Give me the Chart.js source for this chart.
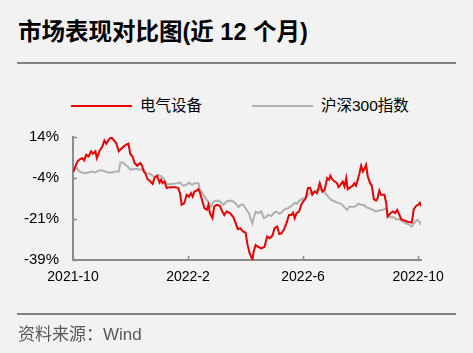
<!DOCTYPE html>
<html>
<head>
<meta charset="utf-8">
<script src="https://cdn.jsdelivr.net/npm/chart.js@4.4.0/dist/chart.umd.min.js"></script>
<style>
    body {
        margin: 0;
        width: 473px;
        height: 353px;
        background: #f2f2f2;
        position: relative;
        overflow: hidden;
        font-family: "Liberation Sans", "Noto Sans CJK SC", sans-serif;
    }
    #title {
        position: absolute;
        left: 18px;
        top: 17px;
        font-size: 23.5px;
        font-weight: bold;
        line-height: 30px;
        color: #000;
        white-space: nowrap;
    }
    .rule {
        position: absolute;
        left: 17px;
        width: 439px;
        height: 2px;
        background: #808080;
    }
    .key-line {
        position: absolute;
        top: 105px;
        width: 61px;
        height: 2px;
    }
    .key-text {
        position: absolute;
        top: 96px;
        font-size: 15.5px;
        line-height: 20px;
        color: #000;
        white-space: nowrap;
    }
    #source {
        position: absolute;
        left: 18px;
        top: 325px;
        font-size: 17px;
        line-height: 20px;
        color: #595959;
        white-space: nowrap;
    }
    #chart {
        position: absolute;
        left: 0;
        top: 0;
    }
</style>
</head>
<body>
<div id="title">市场表现对比图(近 12 个月)</div>
<div class="rule" style="top:62px"></div>
<div class="key-line" style="left:71px;background:#e60000"></div>
<div class="key-text" style="left:140px">电气设备</div>
<div class="key-line" style="left:252px;background:#b0b0b0"></div>
<div class="key-text" style="left:321px">沪深300指数</div>
<canvas id="chart" width="473" height="353"></canvas>
<div class="rule" style="top:313px"></div>
<div id="source">资料来源：Wind</div>

<script>
// months since 2021-10 (x) and cumulative return in % (y)
const redMonths = [0.02,0.08,0.16,0.25,0.33,0.39,0.46,0.54,0.63,0.70,
    0.78,0.83,0.93,1.02,1.09,1.16,1.24,1.33,1.41,1.50,
    1.59,1.67,1.76,1.85,1.93,1.99,2.07,2.14,2.23,2.34,
    2.40,2.46,2.51,2.59,2.69,2.77,2.83,2.92,3.01,3.06,
    3.11,3.18,3.26,3.37,3.55,3.66,3.72,3.78,3.87,3.95,
    4.03,4.10,4.16,4.22,4.30,4.36,4.42,4.47,4.57,4.65,
    4.71,4.76,4.85,4.91,4.99,5.11,5.19,5.26,5.34,5.46,
    5.58,5.66,5.73,5.81,5.92,6.00,6.07,6.14,6.24,6.28,
    6.35,6.43,6.55,6.66,6.75,6.84,6.93,7.01,7.10,7.17,
    7.25,7.33,7.42,7.51,7.59,7.65,7.71,7.77,7.86,7.94,
    8.00,8.09,8.17,8.25,8.32,8.40,8.49,8.58,8.67,8.75,
    8.84,8.90,8.95,9.02,9.10,9.18,9.23,9.30,9.38,9.44,
    9.50,9.55,9.65,9.73,9.78,9.84,9.90,9.96,10.02,10.08,
    10.13,10.19,10.25,10.33,10.39,10.46,10.54,10.59,10.65,10.71,
    10.83,10.89,10.94,11.04,11.12,11.20,11.27,11.35,11.41,11.52,
    11.64,11.78,11.85,11.93,12.01,12.06,12.13];
const redValues = [-0.9,1.3,3.5,4.5,4.9,3.9,6.4,5.6,7.8,6.8,
    7.8,4.9,8.2,9.9,12.5,11.1,12.8,14.0,12.8,11.4,
    7.8,8.8,9.9,10.7,11.1,6.8,5.6,2.8,1.6,2.8,
    1.6,-0.9,-1.6,-4.1,-5.2,-6.2,-3.7,-2.7,-5.6,-4.4,
    -5.9,-5.2,-8.0,-7.6,-7.6,-8.0,-10.2,-15.2,-14.5,-10.9,
    -11.7,-10.2,-11.7,-9.5,-9.1,-8.5,-10.2,-12.4,-16.7,-17.4,
    -15.2,-18.8,-21.0,-16.0,-15.2,-15.7,-18.1,-19.6,-18.1,-18.8,
    -20.6,-23.2,-25.7,-25.3,-26.8,-27.2,-32.5,-36.1,-38.9,-35.4,
    -32.5,-33.3,-34.0,-33.3,-28.9,-29.6,-28.6,-25.3,-24.6,-27.8,
    -27.5,-26.0,-23.2,-19.6,-19.6,-18.6,-21.0,-18.8,-18.1,-15.2,
    -13.8,-12.4,-8.0,-8.0,-10.9,-9.5,-10.2,-5.9,-9.5,-8.8,
    -3.7,-4.4,-2.7,-4.4,-5.2,-5.9,-7.6,-6.6,-5.2,-7.3,
    -3.7,-8.5,-7.6,-7.0,-5.9,-7.0,-4.4,-1.6,1.6,-0.9,
    0.2,2.0,-3.0,-5.9,-7.0,-12.8,-13.4,-12.4,-9.1,-10.9,
    -10.9,-14.5,-20.3,-18.8,-18.1,-18.8,-17.4,-19.6,-21.4,-22.0,
    -22.5,-22.9,-17.1,-15.7,-15.2,-14.3,-16.2];

const grayMonths = [0.02,0.14,0.23,0.31,0.43,0.54,0.66,0.78,0.89,1.01,
    1.12,1.24,1.36,1.47,1.59,1.65,1.74,1.82,1.90,1.99,
    2.11,2.23,2.34,2.46,2.55,2.69,2.80,2.89,2.97,3.08,
    3.18,3.26,3.43,3.60,3.72,3.84,3.95,4.03,4.13,4.24,
    4.36,4.42,4.47,4.57,4.65,4.71,4.80,4.88,4.99,5.11,
    5.23,5.34,5.46,5.58,5.69,5.75,5.84,5.92,6.00,6.07,
    6.12,6.17,6.24,6.28,6.35,6.43,6.55,6.63,6.70,6.78,
    6.90,6.98,7.07,7.17,7.25,7.36,7.48,7.59,7.71,7.77,
    7.88,8.00,8.09,8.17,8.29,8.40,8.49,8.58,8.67,8.75,
    8.87,8.98,9.10,9.20,9.32,9.44,9.53,9.61,9.73,9.84,
    9.92,10.02,10.11,10.19,10.31,10.42,10.54,10.65,10.77,10.89,
    10.94,11.04,11.15,11.24,11.35,11.46,11.58,11.70,11.78,11.87,
    11.97,12.05,12.10];
const grayValues = [-0.1,0.6,-0.9,-1.3,-1.6,-1.3,-0.9,-1.3,-0.4,-0.4,
    -0.9,-1.3,-1.3,-0.9,-0.9,3.0,3.0,2.0,1.3,-0.1,
    0.2,0.2,-0.1,0.2,-1.6,-1.9,-3.0,-3.0,-2.3,-3.0,
    -4.4,-6.2,-6.2,-5.9,-5.6,-7.0,-6.6,-5.6,-6.6,-5.9,
    -5.9,-8.8,-9.5,-11.7,-13.1,-14.3,-16.2,-13.8,-13.4,-13.8,
    -15.2,-13.8,-13.4,-13.8,-15.2,-16.2,-15.2,-15.2,-16.7,-18.1,
    -18.8,-21.0,-23.2,-21.0,-18.1,-18.8,-18.1,-21.0,-20.6,-19.6,
    -20.0,-18.8,-18.1,-19.1,-18.6,-17.1,-16.7,-15.7,-14.3,-14.8,
    -13.4,-12.4,-12.4,-10.9,-9.9,-9.5,-8.8,-8.5,-9.1,-9.9,
    -11.7,-13.1,-13.8,-14.3,-14.8,-16.2,-17.4,-16.0,-16.2,-15.7,
    -14.8,-15.2,-15.2,-16.2,-16.7,-17.4,-18.1,-17.7,-17.4,-16.7,
    -20.0,-20.6,-20.6,-21.4,-21.4,-22.5,-23.2,-23.9,-24.6,-22.9,
    -21.7,-22.5,-23.9];

const xTickPos = [0, 4, 8, 12];
const xTickLabels = ['2021-10', '2022-2', '2022-6', '2022-10'];
const yMin = -39;
const yMax = 14;
const yTickLabels = ['-39%', '-21%', '-4%', '14%'];

const axisColor = '#8c8c8c';

function toPoints(xs, ys) {
    return xs.map((x, i) => ({ x: x, y: ys[i] }));
}

const yTickPos = yTickLabels.map((_, i) => yMin + i * (yMax - yMin) / (yTickLabels.length - 1));

// short tick marks pointing into the plot
const innerTicks = {
    id: 'innerTicks',
    afterDraw(chart) {
        const ctx = chart.ctx;
        const area = chart.chartArea;
        ctx.save();
        ctx.strokeStyle = axisColor;
        ctx.lineWidth = 1.5;
        ctx.beginPath();
        xTickPos.forEach(v => {
            const px = Math.round(chart.scales.x.getPixelForValue(v)) + 0.5;
            ctx.moveTo(px, area.bottom);
            ctx.lineTo(px, area.bottom - 4);
        });
        yTickPos.forEach(v => {
            const py = Math.round(chart.scales.y.getPixelForValue(v)) + 0.5;
            ctx.moveTo(area.left, py);
            ctx.lineTo(area.left + 4, py);
        });
        ctx.stroke();
        ctx.restore();
    }
};

new Chart(document.getElementById('chart').getContext('2d'), {
    type: 'line',
    data: {
        datasets: [
            {
                label: '电气设备',
                data: toPoints(redMonths, redValues),
                borderColor: '#e60000',
                borderWidth: 2,
                pointRadius: 0,
                tension: 0
            },
            {
                label: '沪深300指数',
                data: toPoints(grayMonths, grayValues),
                borderColor: '#b0b0b0',
                borderWidth: 2,
                pointRadius: 0,
                tension: 0
            }
        ]
    },
    options: {
        responsive: false,
        animation: false,
        events: [],
        layout: {
            padding: { top: 137, right: 52, bottom: 0, left: 0 }
        },
        plugins: {
            legend: { display: false },
            tooltip: { enabled: false }
        },
        scales: {
            x: {
                type: 'linear',
                min: 0,
                max: 12.1,
                afterBuildTicks: scale => {
                    scale.ticks = xTickPos.map(v => ({ value: v }));
                },
                afterFit: scale => {
                    scale.height = 93;
                },
                grid: { drawOnChartArea: false, drawTicks: false },
                border: { color: axisColor, width: 2 },
                ticks: {
                    padding: 9,
                    color: '#000',
                    font: { family: 'Liberation Sans', size: 14 },
                    maxRotation: 0,
                    autoSkip: false,
                    callback: value => xTickLabels[xTickPos.indexOf(value)]
                }
            },
            y: {
                min: yMin,
                max: yMax,
                afterBuildTicks: scale => {
                    scale.ticks = yTickPos.map(v => ({ value: v }));
                },
                afterFit: scale => {
                    scale.width = 73;
                },
                grid: { drawOnChartArea: false, drawTicks: false },
                border: { color: axisColor, width: 2 },
                ticks: {
                    padding: 14,
                    color: '#000',
                    font: { family: 'Liberation Sans', size: 15 },
                    autoSkip: false,
                    callback: (value, index) => yTickLabels[index]
                }
            }
        }
    },
    plugins: [innerTicks]
});
</script>
</body>
</html>
